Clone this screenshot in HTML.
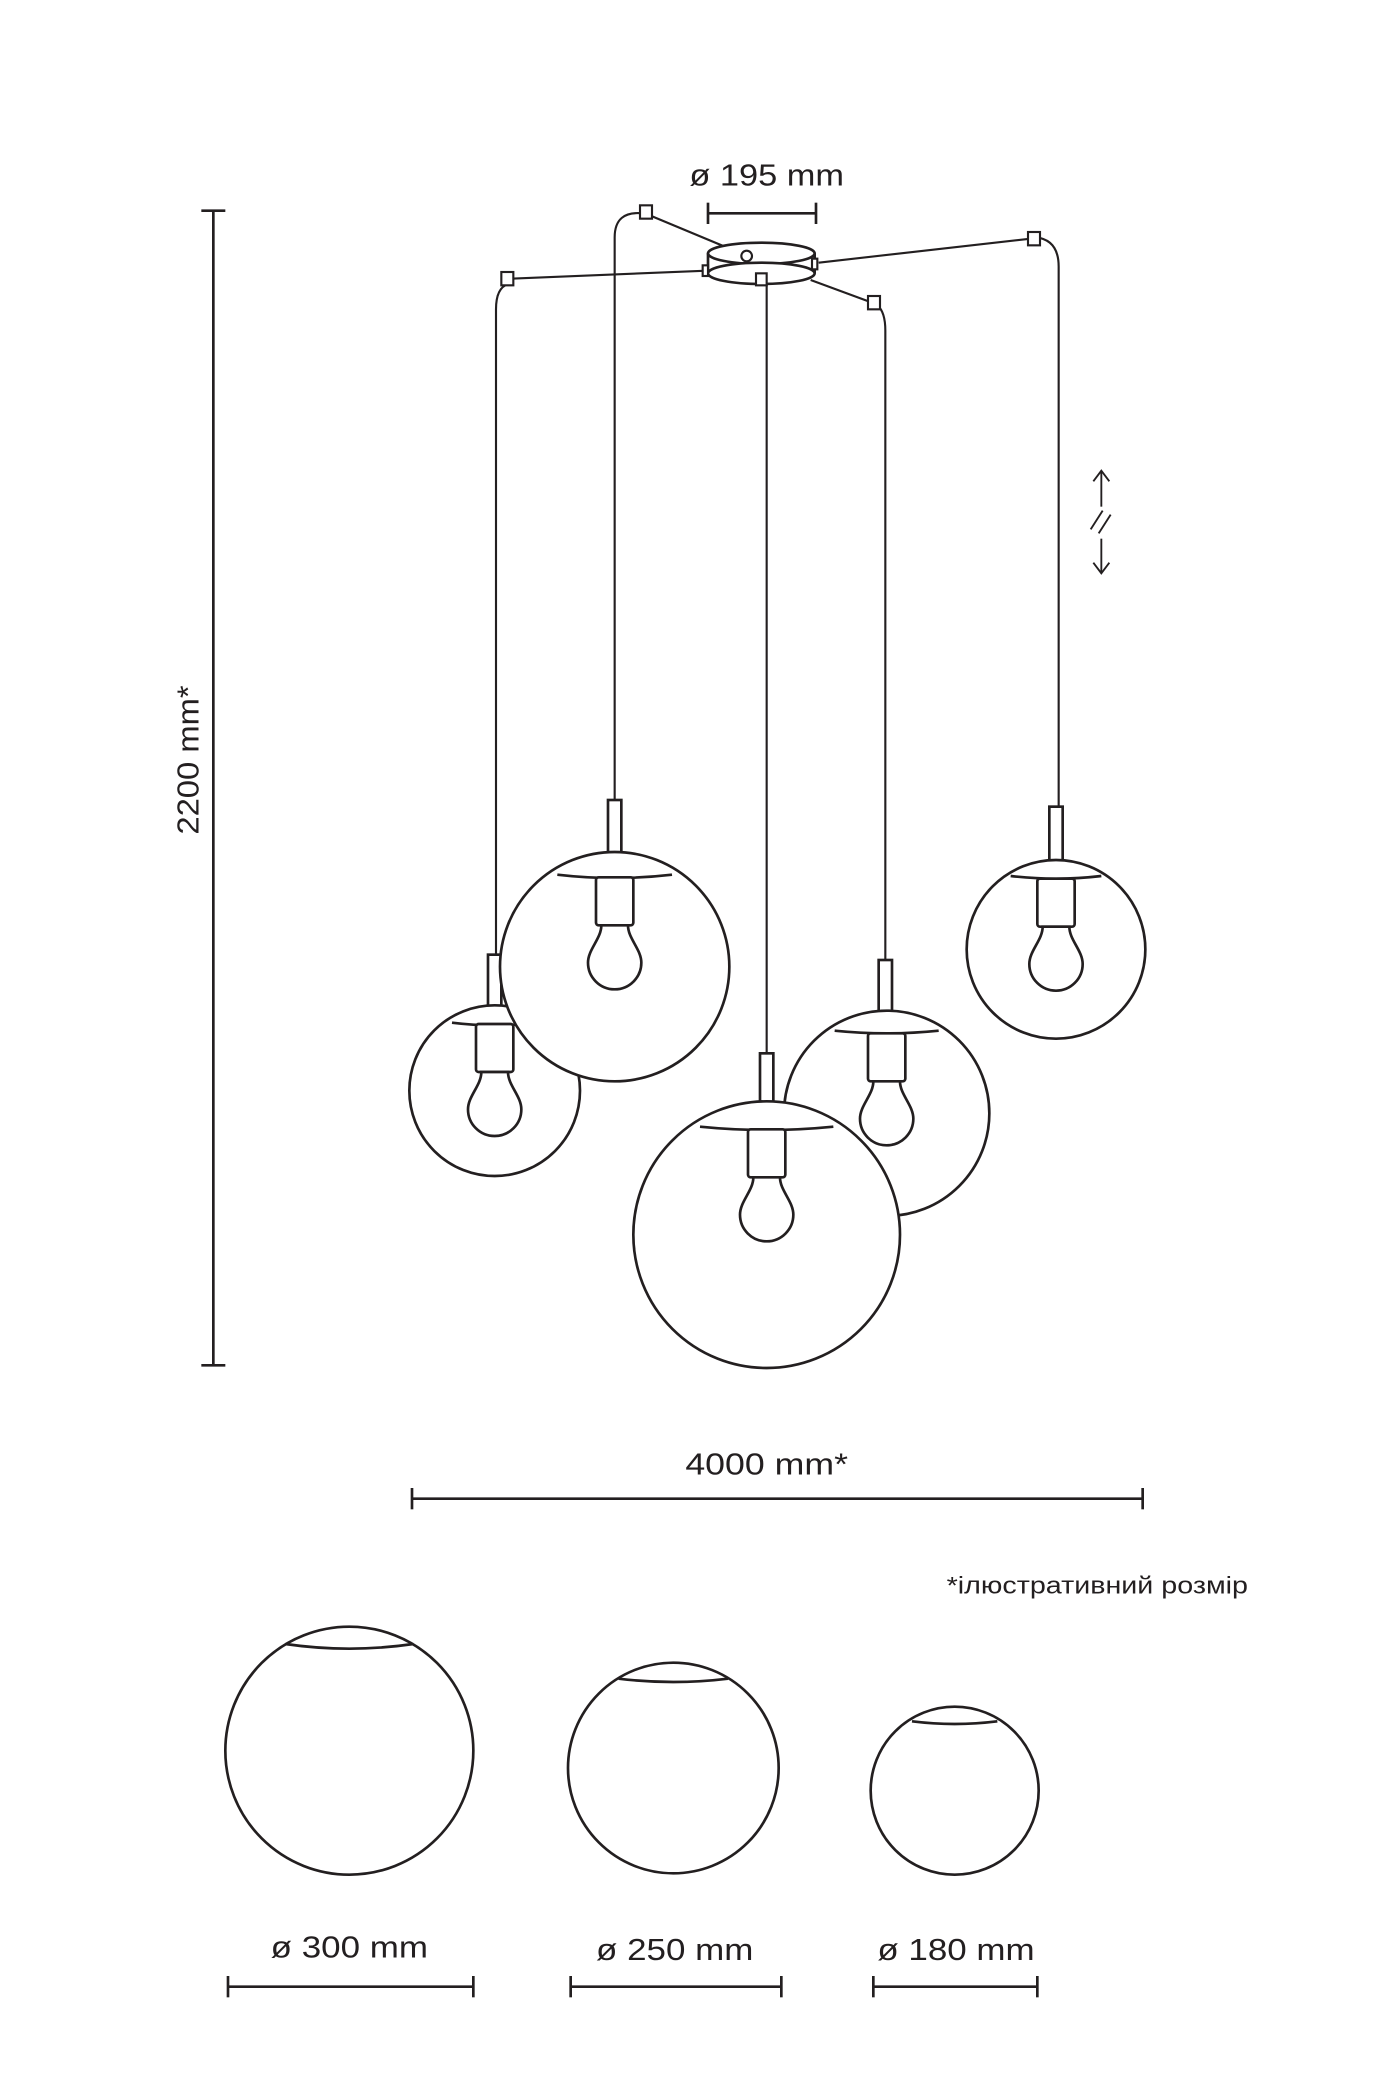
<!DOCTYPE html>
<html><head><meta charset="utf-8"><style>
html,body{margin:0;padding:0;background:#fff}
svg{display:block}
text{font-family:"Liberation Sans Narrow","Liberation Sans","DejaVu Sans",sans-serif;fill:#231f20}
</style></head><body>
<svg width="1400" height="2100" viewBox="0 0 1050 1575" xmlns="http://www.w3.org/2000/svg">
<defs>
<g id="fix" fill="#fff" stroke="#231f20" stroke-width="2">
<rect x="-14" y="0" width="28" height="36" rx="2"/>
<path d="M-10,36 C-10,46 -20,54 -20,64 A20,20 0 0 0 20,64 C20,54 10,46 10,36 Z"/>
</g>
</defs>
<g stroke="#231f20" fill="none">
<line x1="160" y1="158" x2="160" y2="1024" stroke-width="2"/>
<line x1="151" y1="158" x2="169" y2="158" stroke-width="2"/>
<line x1="151" y1="1024" x2="169" y2="1024" stroke-width="2"/>
<line x1="531" y1="160" x2="612" y2="160" stroke-width="2"/>
<line x1="531" y1="152" x2="531" y2="168" stroke-width="2"/>
<line x1="612" y1="152" x2="612" y2="168" stroke-width="2"/>
<g stroke-width="1.6">
<line x1="530" y1="203" x2="383" y2="209"/>
<path d="M381,213 Q372,216 372,232 L372,716"/>
<line x1="558" y1="191" x2="486" y2="161"/>
<path d="M482,160 Q461,158 461,178 L461,600"/>
<line x1="614" y1="197" x2="773" y2="179"/>
<path d="M777,178 Q794,180 794,200 L794,605"/>
<line x1="608" y1="210" x2="654" y2="227"/>
<path d="M658,229 Q664,234 664,248 L664,720"/>
<line x1="575" y1="212" x2="575" y2="790"/>
</g>
<path d="M531,190 L531,205 M611,190 L611,205" stroke-width="2"/>
<ellipse cx="571" cy="190" rx="40" ry="8" fill="#fff" stroke-width="2"/>
<ellipse cx="571" cy="205" rx="40" ry="8" fill="#fff" stroke-width="2"/>
<circle cx="560" cy="192" r="4" stroke-width="1.6"/>
<g fill="#fff" stroke-width="1.6">
<rect x="376" y="204" width="9" height="10"/>
<rect x="480" y="154" width="9" height="10"/>
<rect x="771" y="174" width="9" height="10"/>
<rect x="651" y="222" width="9" height="10"/>
<rect x="567" y="205" width="8" height="9"/>
<rect x="527" y="199" width="4" height="8"/>
<rect x="609" y="194" width="4" height="8"/>
</g>
<g stroke-width="1.4">
<line x1="826" y1="353" x2="826" y2="380"/><path d="M820,361 L826,353 L832,361"/>
<line x1="818" y1="397" x2="827" y2="383"/><line x1="824" y1="400" x2="833" y2="386"/>
<line x1="826" y1="404" x2="826" y2="430"/><path d="M820,422 L826,430 L832,422"/>
</g>
</g>
<g stroke="#231f20" stroke-width="2">
<rect x="366" y="716" width="10" height="40" fill="#fff"/>
<circle cx="371" cy="818" r="64" fill="#fff"/>
<path d="M339,767 Q371,771 403,767" fill="none"/>
<use href="#fix" x="371" y="768"/>
<rect x="456" y="600" width="10" height="41" fill="#fff"/>
<circle cx="461" cy="725" r="86" fill="#fff"/>
<path d="M418,656 Q461,661 504,656" fill="none"/>
<use href="#fix" x="461" y="658"/>
<rect x="659" y="720" width="10" height="40" fill="#fff"/>
<circle cx="665" cy="835" r="77" fill="#fff"/>
<path d="M626,773 Q665,777 704,773" fill="none"/>
<use href="#fix" x="665" y="775"/>
<rect x="570" y="790" width="10" height="38" fill="#fff"/>
<circle cx="575" cy="926" r="100" fill="#fff"/>
<path d="M525,845 Q575,850 625,845" fill="none"/>
<use href="#fix" x="575" y="847"/>
<rect x="787" y="605" width="10" height="42" fill="#fff"/>
<circle cx="792" cy="712" r="67" fill="#fff"/>
<path d="M758,657 Q792,661 826,657" fill="none"/>
<use href="#fix" x="792" y="659"/>
</g>
<g stroke="#231f20" stroke-width="2">
<line x1="309" y1="1124" x2="857" y2="1124"/>
<line x1="309" y1="1116" x2="309" y2="1132"/>
<line x1="857" y1="1116" x2="857" y2="1132"/>
<circle cx="262" cy="1313" r="93" fill="none"/>
<path d="M214,1233 Q262,1240 310,1233" fill="none"/>
<circle cx="505" cy="1326" r="79" fill="none"/>
<path d="M464,1259 Q505,1264 546,1259" fill="none"/>
<circle cx="716" cy="1343" r="63" fill="none"/>
<path d="M684,1291 Q716,1295 748,1291" fill="none"/>
<line x1="171" y1="1490" x2="355" y2="1490"/>
<line x1="171" y1="1482" x2="171" y2="1498"/><line x1="355" y1="1482" x2="355" y2="1498"/>
<line x1="428" y1="1490" x2="586" y2="1490"/>
<line x1="428" y1="1482" x2="428" y2="1498"/><line x1="586" y1="1482" x2="586" y2="1498"/>
<line x1="655" y1="1490" x2="778" y2="1490"/>
<line x1="655" y1="1482" x2="655" y2="1498"/><line x1="778" y1="1482" x2="778" y2="1498"/>
</g>
<text x="575" y="139" font-size="23" text-anchor="middle" textLength="116" lengthAdjust="spacingAndGlyphs">ø 195 mm</text>
<text transform="translate(149,570) rotate(-90)" font-size="23" text-anchor="middle" textLength="112" lengthAdjust="spacingAndGlyphs">2200 mm*</text>
<text x="575" y="1106" font-size="23" text-anchor="middle" textLength="122" lengthAdjust="spacingAndGlyphs">4000 mm*</text>
<text x="710" y="1195" font-size="18" textLength="226" lengthAdjust="spacingAndGlyphs">*ілюстративний розмір</text>
<text x="262" y="1468" font-size="23" text-anchor="middle" textLength="118" lengthAdjust="spacingAndGlyphs">ø 300 mm</text>
<text x="506" y="1470" font-size="23" text-anchor="middle" textLength="118" lengthAdjust="spacingAndGlyphs">ø 250 mm</text>
<text x="717" y="1470" font-size="23" text-anchor="middle" textLength="118" lengthAdjust="spacingAndGlyphs">ø 180 mm</text>
</svg>
</body></html>
